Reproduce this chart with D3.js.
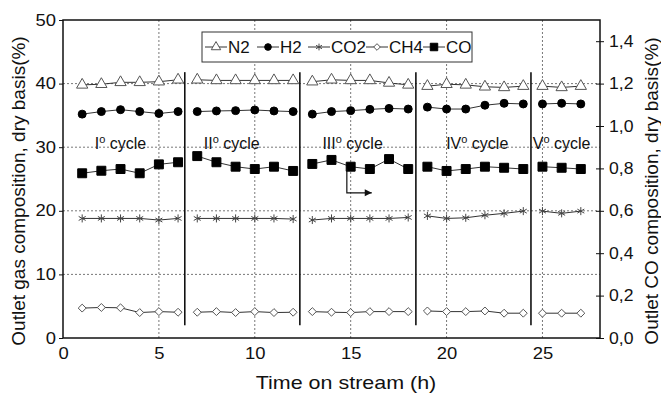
<!DOCTYPE html>
<html>
<head>
<meta charset="utf-8">
<script src="https://cdn.jsdelivr.net/npm/d3@7/dist/d3.min.js"></script>
<style>
  body { margin: 0; background: #fff; }
  text { font-family: "Liberation Sans", Arial, sans-serif; fill: #111; }
</style>
</head>
<body>
<svg id="chart" width="661" height="393"></svg>
<script>
// hours on stream, grouped by cycle
const cycleHours = [
  [1, 2, 3, 4, 5, 6],
  [7, 8, 9, 10, 11, 12],
  [13, 14, 15, 16, 17, 18],
  [19, 20, 21, 22, 23, 24],
  [25, 26, 27]
];
const cycleNames = ['I', 'II', 'III', 'IV', 'V'];
const cycleLabelX = [3.0, 8.8, 15.1, 21.6, 26.0];
const separators = [6.35, 12.35, 18.4, 24.4];

// outlet composition, % dry basis (left axis)
const n2 = [
  39.8, 39.9, 40.2, 40.2, 40.3, 40.6,
  40.6, 40.5, 40.5, 40.5, 40.5, 40.5,
  40.3, 40.6, 40.5, 40.5, 40.1, 39.8,
  39.6, 39.9, 39.8, 39.5, 39.4, 39.6,
  39.6, 39.4, 39.6
];
const h2 = [
  35.2, 35.6, 35.9, 35.6, 35.3, 35.6,
  35.6, 35.7, 35.75, 35.85, 35.7, 35.6,
  35.2, 35.6, 35.75, 35.95, 36.1, 36.0,
  36.3, 36.0, 36.0, 36.6, 36.9, 36.8,
  36.8, 36.9, 36.8
];
const co2 = [
  18.8, 18.8, 18.8, 18.8, 18.55, 18.8,
  18.8, 18.8, 18.8, 18.8, 18.8, 18.7,
  18.55, 18.8, 18.8, 18.8, 18.8, 18.95,
  19.2, 18.8, 18.9, 19.3, 19.6, 19.95,
  19.95, 19.6, 19.95
];
const ch4 = [
  4.7, 4.8, 4.75, 4.0, 4.15, 4.05,
  4.05, 4.15, 4.0, 4.15, 4.0, 4.05,
  4.15, 4.05, 4.0, 4.15, 4.15, 4.15,
  4.25, 4.15, 4.15, 4.25, 3.9, 3.9,
  3.9, 3.9, 3.9
];
// outlet CO, % dry basis (right axis)
const co = [
  0.777, 0.789, 0.797, 0.777, 0.819, 0.829,
  0.858, 0.829, 0.808, 0.797, 0.808, 0.788,
  0.821, 0.840, 0.808, 0.797, 0.844, 0.797,
  0.808, 0.788, 0.797, 0.808, 0.803, 0.797,
  0.808, 0.803, 0.797
];

const xTicks = [0, 5, 10, 15, 20, 25];
const yLeftTicks = [0, 10, 20, 30, 40, 50];
const yRightTicks = [0, 0.2, 0.4, 0.6, 0.8, 1.0, 1.2, 1.4];
const hGrid = [10, 20, 30, 40];
const vGrid = [5, 10, 15, 20, 25];

// separator extent and arrow, in data units
const sepRange = [2, 41.8];
const arrowX = [14.8, 16.1];
const arrowCo = [0.80, 0.685];

const svg = d3.select('#chart');
const mLeft = 63, mRight = 600, mTop = 20, mBottom = 338;

const x = d3.scaleLinear().domain([0, 28]).range([mLeft, mRight]);
const y = d3.scaleLinear().domain([0, 50]).range([mBottom, mTop]);
const y2 = d3.scaleLinear().domain([0, 1.5]).range([mBottom, mTop]);

const lineColor = '#333';
const font = '"Liberation Sans", Arial, sans-serif';

// the scanned figure is slightly stretched sideways
function widen(sel, k) {
  sel.each(function () {
    const w = this.getComputedTextLength();
    d3.select(this).attr('textLength', w * k).attr('lengthAdjust', 'spacingAndGlyphs');
  });
}

// grid lines
svg.append('g').selectAll('line').data(hGrid).enter().append('line')
  .attr('x1', mLeft).attr('x2', mRight)
  .attr('y1', d => y(d)).attr('y2', d => y(d))
  .attr('stroke', '#555').attr('stroke-width', 0.8).attr('stroke-dasharray', '2,2');
svg.append('g').selectAll('line').data(vGrid).enter().append('line')
  .attr('x1', d => x(d)).attr('x2', d => x(d))
  .attr('y1', mTop).attr('y2', mBottom)
  .attr('stroke', '#555').attr('stroke-width', 0.8).attr('stroke-dasharray', '2,2');

// cycle separators
svg.append('g').selectAll('line').data(separators).enter().append('line')
  .attr('x1', d => x(d)).attr('x2', d => x(d))
  .attr('y1', y(sepRange[1])).attr('y2', y(sepRange[0]))
  .attr('stroke', '#111').attr('stroke-width', 1.6);

// axes
svg.append('g').attr('transform', `translate(0,${mBottom})`)
  .call(d3.axisBottom(x).tickValues(xTicks).tickSize(0).tickPadding(10).tickFormat(d3.format('d')))
  .call(g => g.select('.domain').remove())
  .call(g => g.selectAll('text').attr('font-size', 16).attr('font-family', font).attr('fill', '#111').call(widen, 1.15));

svg.append('g').attr('transform', `translate(${mLeft},0)`)
  .call(d3.axisLeft(y).tickValues(yLeftTicks).tickSize(4).tickPadding(3).tickFormat(d3.format('d')))
  .call(g => g.select('.domain').remove())
  .call(g => g.selectAll('line').attr('stroke', '#111'))
  .call(g => g.selectAll('text').attr('font-size', 16).attr('font-family', font).attr('fill', '#111').call(widen, 1.15));

svg.append('g').attr('transform', `translate(${mRight},0)`)
  .call(d3.axisRight(y2).tickValues(yRightTicks).tickSizeInner(4).tickSizeOuter(0).tickPadding(5)
    .tickFormat(d => d3.format('.1f')(d).replace('.', ',')))
  .call(g => g.select('.domain').remove())
  .call(g => g.selectAll('line').attr('x1', -4).attr('stroke', '#111'))
  .call(g => g.selectAll('text').attr('font-size', 16).attr('font-family', font).attr('fill', '#111').call(widen, 1.1));

// frame
svg.append('rect')
  .attr('x', mLeft).attr('y', mTop).attr('width', mRight - mLeft).attr('height', mBottom - mTop)
  .attr('fill', 'none').attr('stroke', '#111').attr('stroke-width', 1.5);

// series
const series = [
  { name: 'N2', values: n2, scale: y, symbol: d3.symbolTriangle, size: 55, fill: '#fff', stroke: '#555' },
  { name: 'H2', values: h2, scale: y, symbol: d3.symbolCircle, size: 50, fill: '#000', stroke: '#000' },
  { name: 'CO2', values: co2, scale: y, symbol: d3.symbolAsterisk, size: 45, fill: 'none', stroke: '#444' },
  { name: 'CH4', values: ch4, scale: y, symbol: d3.symbolDiamond2, size: 40, fill: '#fff', stroke: '#555' },
  { name: 'CO', values: co, scale: y2, symbol: d3.symbolSquare, size: 80, fill: '#000', stroke: '#000' }
];

series.forEach(s => {
  const g = svg.append('g');
  let i0 = 0;
  cycleHours.forEach(hrs => {
    const pts = hrs.map((h, j) => [h, s.values[i0 + j]]);
    i0 += hrs.length;
    const line = d3.line().x(d => x(d[0])).y(d => s.scale(d[1]));
    g.append('path').attr('d', line(pts))
      .attr('fill', 'none').attr('stroke', lineColor).attr('stroke-width', 1);
    g.selectAll(null).data(pts).enter().append('path')
      .attr('transform', d => `translate(${x(d[0])},${s.scale(d[1])})`)
      .attr('d', d3.symbol().type(s.symbol).size(s.size))
      .attr('fill', s.fill).attr('stroke', s.stroke).attr('stroke-width', 1);
  });
});

// arrow annotation
const arrowPts = [[arrowX[0], arrowCo[0]], [arrowX[0], arrowCo[1]], [arrowX[1], arrowCo[1]]];
svg.append('path')
  .attr('d', d3.line().x(d => x(d[0])).y(d => y2(d[1]))(arrowPts))
  .attr('fill', 'none').attr('stroke', '#111').attr('stroke-width', 1.2);
const ax = x(arrowX[1]), ay = y2(arrowCo[1]);
svg.append('path')
  .attr('d', `M${ax},${ay}l-7,-3.5l0,7z`)
  .attr('fill', '#111');

// cycle labels
const cl = svg.append('g');
cycleNames.forEach((n, i) => {
  const t = cl.append('text')
    .attr('x', x(cycleLabelX[i])).attr('y', y(29.7))
    .attr('text-anchor', 'middle').attr('font-size', 16);
  t.append('tspan').text(n);
  t.append('tspan').attr('font-size', 11).attr('dy', -6).text('o');
  t.append('tspan').attr('dy', 6).text(' cycle');
});

// legend
const legend = svg.append('g');
legend.append('rect')
  .attr('x', 202).attr('y', 32).attr('width', 270).attr('height', 30)
  .attr('fill', '#fff').attr('stroke', '#333').attr('stroke-width', 1);
const legendX = [205, 257, 308, 366, 423];
series.forEach((s, i) => {
  const lx = legendX[i], ly = 47;
  legend.append('line').attr('x1', lx).attr('x2', lx + 22).attr('y1', ly).attr('y2', ly)
    .attr('stroke', lineColor).attr('stroke-width', 1);
  legend.append('path')
    .attr('transform', `translate(${lx + 11},${ly})`)
    .attr('d', d3.symbol().type(s.symbol).size(s.size * 0.7))
    .attr('fill', s.fill).attr('stroke', s.stroke).attr('stroke-width', 1);
  legend.append('text').attr('x', lx + 23).attr('y', ly + 6)
    .attr('font-size', 17).text(s.name);
});

// axis titles
svg.append('text')
  .attr('x', 346).attr('y', 389)
  .attr('text-anchor', 'middle').attr('font-size', 19)
  .text('Time on stream (h)')
  .call(widen, 1.13);
svg.append('text')
  .attr('transform', `translate(25,${(mTop + mBottom) / 2 + 12}) rotate(-90)`)
  .attr('text-anchor', 'middle').attr('font-size', 19)
  .text('Outlet gas composition, dry basis(%)');
svg.append('text')
  .attr('transform', `translate(658,${(mTop + mBottom) / 2 + 12}) rotate(-90)`)
  .attr('text-anchor', 'middle').attr('font-size', 19)
  .text('Outlet CO composition, dry basis(%)');
</script>
</body>
</html>
